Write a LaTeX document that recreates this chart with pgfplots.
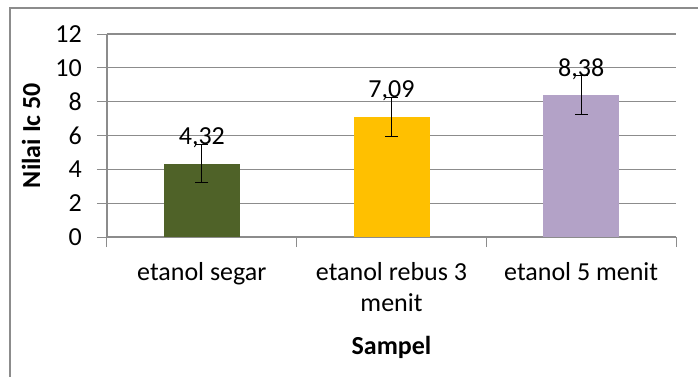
\documentclass[border=0pt]{standalone}
\usepackage{pgfplots}
\pgfplotsset{compat=1.18}
\usepackage{fontspec}
\setmainfont{Carlito}
\definecolor{c1}{HTML}{4F6228}
\definecolor{c2}{HTML}{FFC000}
\definecolor{c3}{HTML}{B3A2C7}
\definecolor{gridc}{HTML}{8C8C8C}
\newcommand{\bigf}{\fontsize{26}{31}\selectfont}
\begin{document}
\begin{tikzpicture}[x=1pt,y=1pt]
\useasboundingbox (-107,-139) rectangle (591,237);
\draw[gridc, line width=2pt] (-97,-145) -- (-97,229) -- (600,229);
\begin{axis}[
  at={(0,0)}, anchor=south west,
  scale only axis, width=569pt, height=203pt,
  xmin=-0.5, xmax=2.5, ymin=0, ymax=12,
  ytick={0,2,...,12},
  xtick={0,1,2},
  xticklabels={etanol segar, etanol rebus 3\\menit, etanol 5 menit},
  extra x ticks={-0.5,0.5,1.5,2.5},
  extra x tick labels={},
  extra x tick style={xtick style={draw=gridc, line width=1pt}},
  xtick style={draw=none},
  ytick style={draw=gridc, line width=1pt},
  major tick length=10pt,
  tick align=outside,
  axis x line*=bottom, axis y line*=left,
  axis line style={gridc, line width=1.2pt, -},
  ymajorgrids, grid style={gridc, line width=1.2pt},
  /pgf/number format/assume math mode=true,
  ticklabel style={font=\bigf},
  yticklabel style={anchor=east, inner sep=0pt, xshift=-15pt},
  xticklabel style={align=center, anchor=north, inner sep=0pt, yshift=-15pt},
  ylabel={\bfseries Nilai Ic 50},
  xlabel={\bfseries Sampel},
  ylabel style={font=\bigf, at={(axis description cs:-0.1336,0.5)}, anchor=center, rotate=0},
  xlabel style={font=\bigf, at={(axis description cs:0.5,-0.5419)}, anchor=center},
  ybar, bar width=76pt, bar shift=0pt,
  nodes near coords,
  nodes near coords align={anchor=center},
  every node near coord/.append style={font=\bigf, yshift=26pt, text=black,
     /pgf/number format/.cd, use comma, fixed, fixed zerofill, precision=2, assume math mode=true},
  error bars/y dir=both, error bars/y explicit,
  error bars/error bar style={black, line width=1pt},
  error bars/error mark options={rotate=90, mark size=6.5pt, line width=1pt, black},
]
\addplot[fill=c1, draw=none] coordinates {(0,4.32) +- (0,1.12)};
\addplot[fill=c2, draw=none] coordinates {(1,7.09) +- (0,1.17)};
\addplot[fill=c3, draw=none] coordinates {(2,8.38) +- (0,1.16)};
\end{axis}
\end{tikzpicture}
\end{document}
